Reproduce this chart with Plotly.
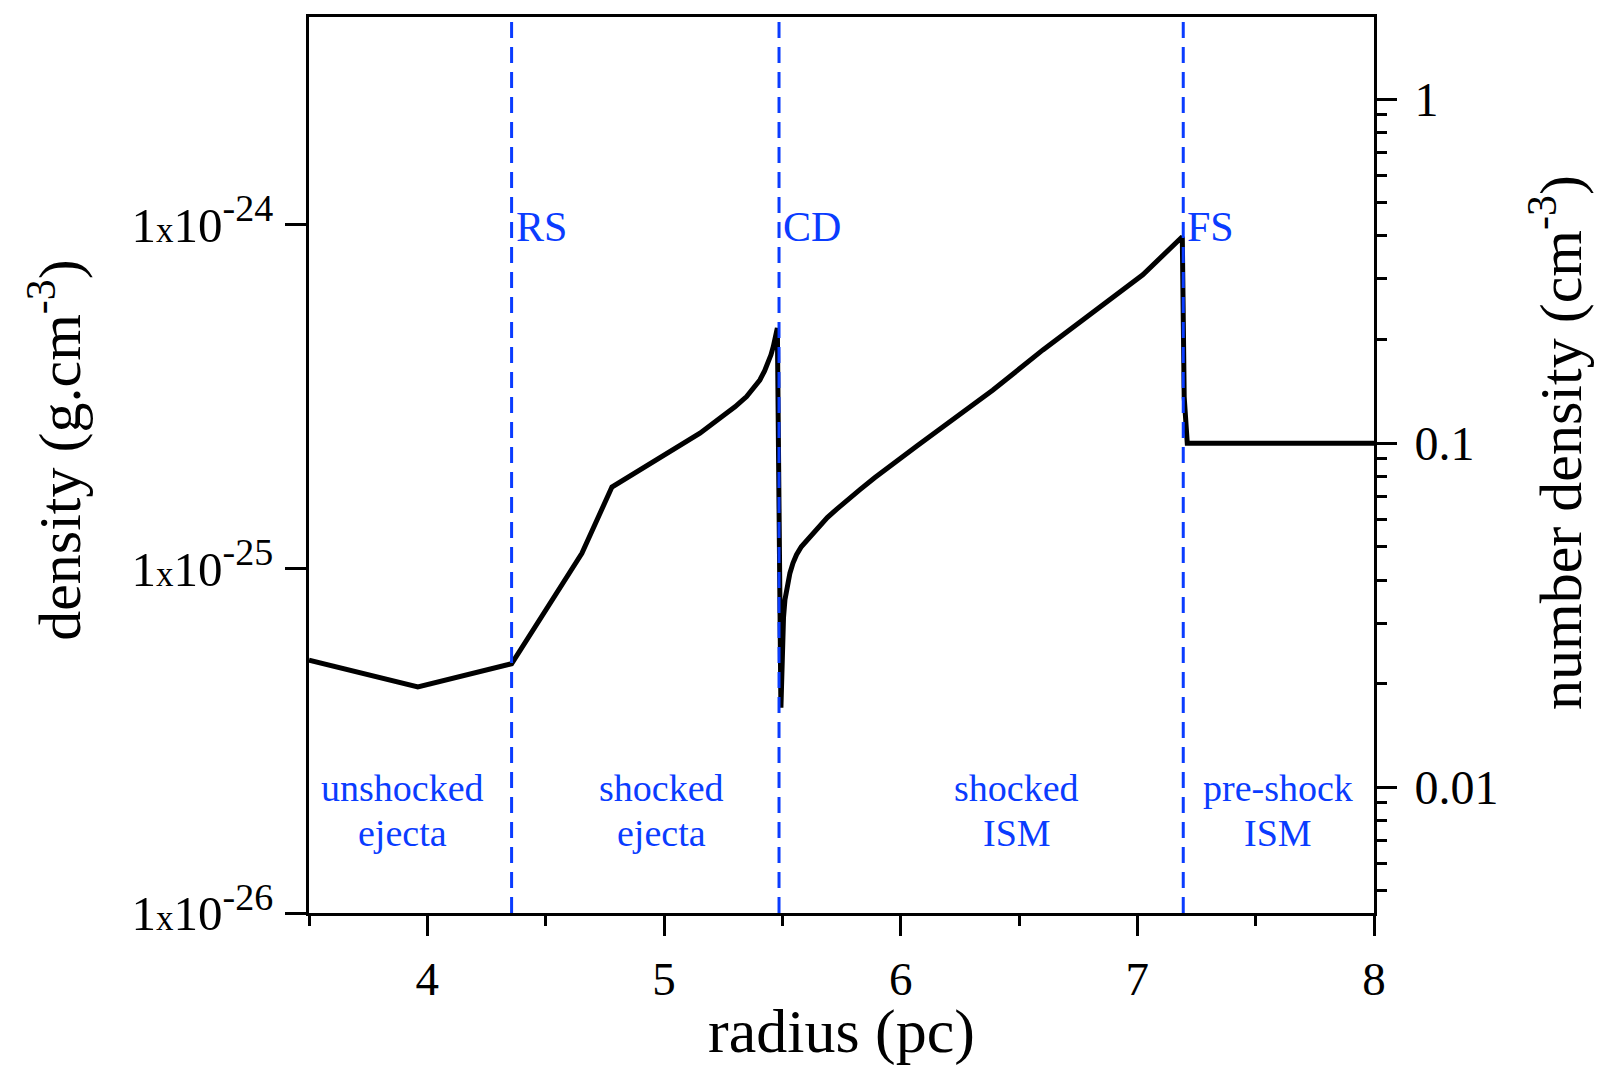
import math
import plotly.graph_objects as go

# ---- data ----
radius_pc = [3.5, 3.96, 4.356, 4.653, 4.78, 5.053, 5.152, 5.265, 5.30, 5.349, 5.38, 5.405,
             5.425, 5.440, 5.452, 5.462, 5.471, 5.479,
             5.494, 5.497, 5.501, 5.505, 5.511, 5.52, 5.532, 5.545, 5.560, 5.58, 5.603,
             5.659, 5.69, 5.729, 5.77, 5.828, 5.89, 5.967, 6.07,
             6.179, 6.39, 6.601, 6.812, 7.023, 7.190, 7.198, 7.211, 8.0]
density_gcm3 = [5.43e-26, 4.54e-26, 5.30e-26, 1.11e-25, 1.73e-25, 2.24e-25, 2.48e-25, 2.84e-25,
                2.96e-25, 3.17e-25, 3.36e-25, 3.54e-25, 3.76e-25, 3.96e-25, 4.19e-25, 4.43e-25,
                4.71e-25, 5.01e-25,
                3.95e-26, 5.01e-26, 6.52e-26, 7.24e-26, 8.13e-26, 8.91e-26, 9.72e-26, 1.04e-25,
                1.10e-25, 1.16e-25, 1.21e-25, 1.34e-25, 1.41e-25, 1.49e-25, 1.58e-25, 1.70e-25,
                1.84e-25, 2.01e-25, 2.28e-25, 2.59e-25, 3.31e-25, 4.33e-25, 5.55e-25,
                7.16e-25, 9.23e-25, 3.16e-25, 2.32e-25, 2.32e-25]
mass_per_particle_g = 2.32e-24  # conversion between the two y axes

shock_positions = [4.356, 5.486, 7.194]
shock_labels = ["RS", "CD", "FS"]

region_x = [3.895, 4.991, 6.491, 7.594]
region_line1 = ["unshocked", "shocked", "shocked", "pre-shock"]
region_line2 = ["ejecta", "ejecta", "ISM", "ISM"]
region_logy_line1 = -25.637
region_logy_line2 = -25.767

x_ticks = [4, 5, 6, 7, 8]
x_minor_ticks = [3.5, 4.5, 5.5, 6.5, 7.5]
y_ticks = [1e-26, 1e-25, 1e-24]
y_exponents = ["-26", "-25", "-24"]
y_ticktext = ["1<span style='font-size:35px'>x</span>10<sup><span style='font-size:38px'>%s</span></sup>" % e
              for e in y_exponents]
y2_ticks = [0.01, 0.1, 1]
y2_ticktext = ["0.01", "0.1", "1"]
y2_minor = [0.005, 0.006, 0.007, 0.008, 0.009,
            0.02, 0.03, 0.04, 0.05, 0.06, 0.07, 0.08, 0.09,
            0.2, 0.3, 0.4, 0.5, 0.6, 0.7, 0.8, 0.9]

y_log_range = [-26.0, -23.396]

FONT = "Liberation Serif, Times New Roman, serif"
BLUE = "rgb(10,60,255)"

number_density = [d / mass_per_particle_g for d in density_gcm3]
shift = math.log10(mass_per_particle_g)

fig = go.Figure()
fig.add_trace(go.Scatter(x=radius_pc, y=density_gcm3, mode="lines",
                         line=dict(color="black", width=5), showlegend=False,
                         hoverinfo="skip"))
fig.add_trace(go.Scatter(x=radius_pc, y=number_density, mode="lines", yaxis="y2",
                         line=dict(color="rgba(0,0,0,0)", width=0), showlegend=False,
                         hoverinfo="skip"))

for xs, lab in zip(shock_positions, shock_labels):
    fig.add_shape(type="line", xref="x", yref="paper", x0=xs, x1=xs, y0=0, y1=1,
                  line=dict(color=BLUE, width=3, dash="16px,9px"))
    fig.add_annotation(x=xs, y=-24.0, xref="x", yref="y", text=lab, showarrow=False,
                       xanchor="left", yanchor="middle", xshift=2, yshift=-2,
                       font=dict(family=FONT, size=42, color=BLUE))

for xr, l1, l2 in zip(region_x, region_line1, region_line2):
    for txt, ly in ((l1, region_logy_line1), (l2, region_logy_line2)):
        fig.add_annotation(x=xr, y=ly, xref="x", yref="y", text=txt, showarrow=False,
                           xanchor="center", yanchor="middle",
                           font=dict(family=FONT, size=38, color=BLUE))

axis_common = dict(showline=True, linecolor="black", linewidth=3, showgrid=False,
                   zeroline=False, ticks="outside", tickcolor="black", tickwidth=3)

fig.update_layout(
    width=1598, height=1066, autosize=False,
    margin=dict(l=309, r=224, t=17, b=153, pad=0),
    paper_bgcolor="white", plot_bgcolor="white",
    font=dict(family=FONT, color="black"),
    xaxis=dict(**axis_common, range=[3.5, 8], mirror=True, tickvals=x_ticks,
               ticklen=20, tickfont=dict(size=47), ticklabelstandoff=3,
               minor=dict(tickvals=x_minor_ticks, ticks="outside", ticklen=10,
                          tickwidth=2.5, tickcolor="black", showgrid=False),
               title=dict(text="radius (pc)", font=dict(size=62), standoff=4)),
    yaxis=dict(**axis_common, type="log", range=y_log_range, tickvals=y_ticks,
               ticktext=y_ticktext, ticklen=21, tickfont=dict(size=49),
               ticklabelstandoff=2,
               title=dict(text="&nbsp;&nbsp;density (g.cm<sup>-3</sup>)",
                          font=dict(size=60), standoff=32)),
    yaxis2=dict(**axis_common, type="log", overlaying="y", side="right",
                range=[y_log_range[0] - shift, y_log_range[1] - shift],
                tickvals=y2_ticks, ticktext=y2_ticktext, ticklen=20,
                tickfont=dict(size=48), ticklabelstandoff=8,
                minor=dict(tickvals=y2_minor, ticks="outside", ticklen=10,
                           tickwidth=2.5, tickcolor="black", showgrid=False),
                title=dict(text="&nbsp;&nbsp;&nbsp;number density (cm<sup>-3</sup>)",
                           font=dict(size=60), standoff=42)),
)

fig.write_html("out.html")
